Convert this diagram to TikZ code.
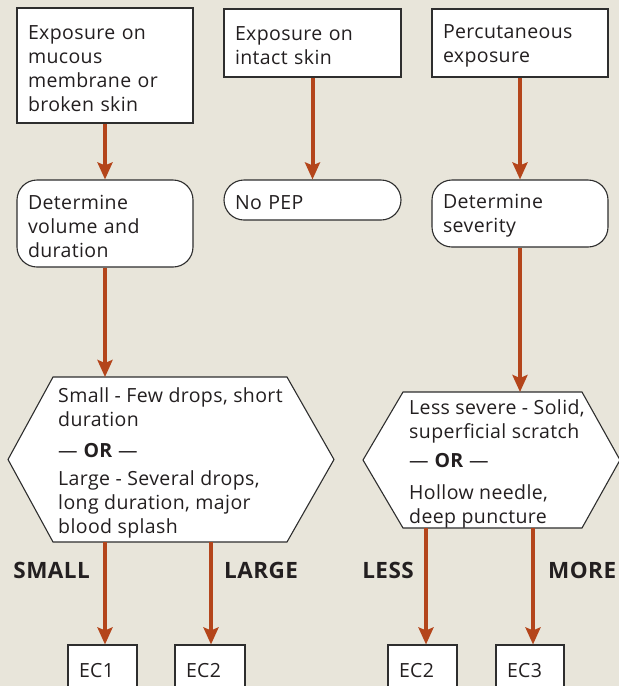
\documentclass[tikz,border=0pt]{standalone}
\usepackage{fontspec}
\setmainfont{Open Sans}[LetterSpace=2]
\usetikzlibrary{arrows.meta}
\definecolor{bg}{HTML}{E8E5DA}
\definecolor{rust}{HTML}{B4451B}
\definecolor{edge}{HTML}{2E2E2E}
\definecolor{ink}{HTML}{231F20}
\begin{document}
\begin{tikzpicture}[x=1pt,y=-1pt,
  txt/.style={font=\fontsize{19.5}{24}\selectfont, text=ink},
  box/.style={txt, draw=edge, line width=1.1pt, fill=white, align=left, inner xsep=11pt, inner ysep=0pt,
    execute at begin node={\rule{0pt}{19.5pt}}},
  rbox/.style={box, rounded corners=20pt},
  hexshape/.style={draw=edge, line width=1.1pt, fill=white},
  arr/.style={draw=rust, line width=4pt, -{Stealth[length=17pt,width=15pt,inset=3pt]}},
  lab/.style={font=\fontsize{22.5}{24}\bfseries\selectfont, text=ink, inner sep=0pt}]
\useasboundingbox (0,0) rectangle (619,686);
\clip (0,0) rectangle (619,686);
\fill[bg] (0,0) rectangle (619,686);
% hexagons
\draw[hexshape] (8,459.5) -- (53,377) -- (287,377) -- (334,459.5) -- (287,542) -- (53,542) -- cycle;
\draw[hexshape] (363,460) -- (403,392) -- (582,392) -- (620,460) -- (582,528) -- (403,528) -- cycle;
\coordinate (h1s) at (170,542);
\coordinate (h1n) at (170,377);
\coordinate (h2s) at (492,528);
\coordinate (h2n) at (492,392);
% boxes
\node[box, text width=154pt, minimum height=115pt] (b1) at (105,65.5) {Exposure on\\mucous\\membrane or\\broken skin};
\node[box, text width=155pt, minimum height=68pt] (b2) at (312.5,43) {Exposure on\\intact skin};
\node[box, text width=154pt, minimum height=68pt] (b3) at (520,43) {Percutaneous\\exposure};
\node[rbox, text width=154pt, minimum height=87pt] (r1) at (105,223.5) {Determine\\volume and\\duration};
\node[rbox, text width=155pt, minimum height=40pt] (r2) at (312.5,200) {No PEP};
\node[rbox, text width=154pt, minimum height=67pt] (r3) at (520,213.5) {Determine\\severity};
% hexagon texts
\node[txt, align=left, anchor=west, inner sep=0pt] (h1) at (58,463) {Small - Few drops, short\\duration\\[7pt]— \textbf{OR} —\\[4pt]Large - Several drops,\\long duration, major\\blood splash};
\node[txt, align=left, anchor=west, inner sep=0pt] (h2) at (409,464) {Less severe - Solid,\\superficial scratch\\[5pt]— \textbf{OR} —\\[8pt]Hollow needle,\\deep puncture};
% end boxes
\node[box, text width=47pt, minimum height=46pt] (e1) at (102.5,668) {EC1};
\node[box, text width=48pt, minimum height=46pt] (e2) at (210,668) {EC2};
\node[box, text width=47pt, minimum height=46pt] (e3) at (422.5,668) {EC2};
\node[box, text width=46pt, minimum height=46pt] (e4) at (530,668) {EC3};
% labels
\node[lab, anchor=base east] (ls) at (90,578) {SMALL};
\node[lab, anchor=base west] (ll) at (224,578) {LARGE};
\node[lab, anchor=base east] (le) at (414,578) {LESS};
\node[lab, anchor=base west] (lm) at (548,578) {MORE};
% arrows
\draw[arr] (b1.south) -- (r1.north);
\draw[arr] (b2.south) -- (r2.north);
\draw[arr] (b3.south) -- (r3.north);
\draw[arr] (r1.south) -- (r1.south |- h1n);
\draw[arr] (r3.south) -- (r3.south |- h2n);
\draw[arr] ([xshift=2.5pt]e1.north |- h1s) -- ([xshift=2.5pt]e1.north);
\draw[arr] ([xshift=1pt]e2.north |- h1s) -- ([xshift=1pt]e2.north);
\draw[arr] ([xshift=3.5pt]e3.north |- h2s) -- ([xshift=3.5pt]e3.north);
\draw[arr] ([xshift=3pt]e4.north |- h2s) -- ([xshift=3pt]e4.north);
\end{tikzpicture}
\end{document}
